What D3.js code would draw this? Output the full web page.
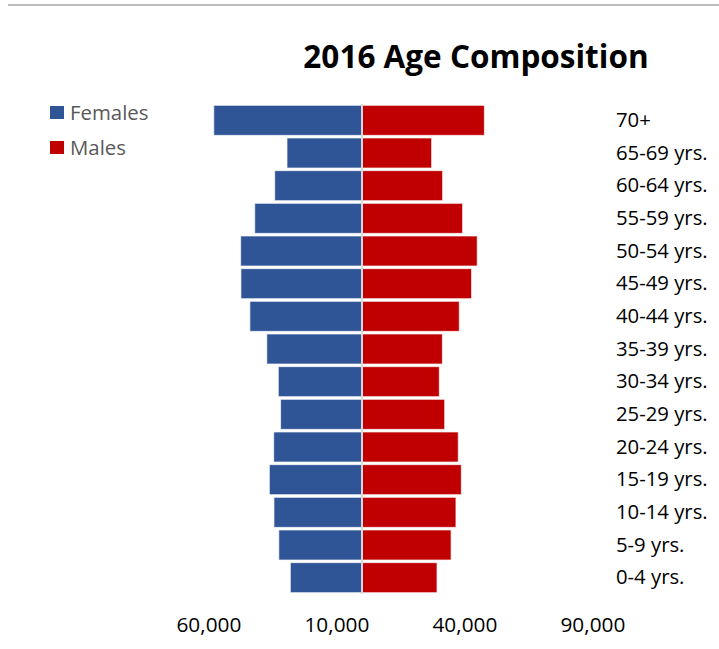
<!DOCTYPE html>
<html>
<head>
<meta charset="utf-8">
<script src="https://cdn.jsdelivr.net/npm/d3@7"></script>
<style>
  html, body { margin: 0; padding: 0; background: #fff; }
  svg { display: block; }
  text { font-family: "Open Sans", "Noto Sans", sans-serif; }
</style>
</head>
<body>
<svg id="chart" width="719" height="649"></svg>
<script>
// Age groups, listed from the top row of the pyramid down
const ageGroups = ["70+", "65-69 yrs.", "60-64 yrs.", "55-59 yrs.", "50-54 yrs.", "45-49 yrs.",
  "40-44 yrs.", "35-39 yrs.", "30-34 yrs.", "25-29 yrs.", "20-24 yrs.", "15-19 yrs.",
  "10-14 yrs.", "5-9 yrs.", "0-4 yrs."];
const females = [57900, 29300, 34100, 41900, 47400, 47300, 43800, 37200, 32700, 31800, 34500, 36200, 34400, 32500, 28000];
const males   = [47800, 27200, 31500, 39300, 45000, 42800, 38000, 31400, 30200, 32300, 37600, 38800, 36700, 34800, 29300];
const tickValues = [-60000, -10000, 40000, 90000];
const seriesNames = ["Females", "Males"];
const seriesColors = ["#2f5597", "#c00000"];
const chartTitle = "2016 Age Composition";

const svg = d3.select("#chart");

// thin rule across the top of the page
svg.append("line")
  .attr("x1", 8).attr("x2", 719).attr("y1", 5).attr("y2", 5)
  .attr("stroke", "#a6a6a6").attr("stroke-width", 1.5);

// Females are plotted to the left of zero, males to the right
const x = d3.scaleLinear().domain([-60000, 90000]).range([208.4, 592.4]);
const y = d3.scaleBand().domain(ageGroups).range([104, 594]).paddingInner(0.08).paddingOuter(0.04);

const rows = ageGroups.map((g, i) => ({ group: g, female: females[i], male: males[i] }));

svg.append("g").selectAll("rect")
  .data(rows).join("rect")
  .attr("x", d => x(-d.female))
  .attr("y", d => y(d.group))
  .attr("width", d => x(0) - x(-d.female))
  .attr("height", y.bandwidth())
  .attr("fill", seriesColors[0])
  .attr("stroke", "#ffffff").attr("stroke-opacity", 0.7).attr("stroke-width", 1);

svg.append("g").selectAll("rect")
  .data(rows).join("rect")
  .attr("x", x(0))
  .attr("y", d => y(d.group))
  .attr("width", d => x(d.male) - x(0))
  .attr("height", y.bandwidth())
  .attr("fill", seriesColors[1])
  .attr("stroke", "#ffffff").attr("stroke-opacity", 0.7).attr("stroke-width", 1);

// zero line between the two halves
svg.append("line")
  .attr("x1", x(0)).attr("x2", x(0))
  .attr("y1", 104).attr("y2", 594)
  .attr("stroke", "#d9d9d9").attr("stroke-width", 2);

// value axis along the bottom, shown as absolute counts
const xAxis = svg.append("g")
  .attr("transform", "translate(0,610)")
  .call(d3.axisBottom(x).tickValues(tickValues).tickSize(0).tickPadding(0)
    .tickFormat(d => d3.format(",")(Math.abs(d))));
xAxis.select(".domain").remove();
xAxis.selectAll("text")
  .attr("dy", null).attr("y", 22)
  .attr("font-family", "Open Sans, sans-serif")
  .attr("font-size", 20.8).attr("fill", "#000");

// age group labels on the right
const yAxis = svg.append("g")
  .attr("transform", "translate(616,0)")
  .call(d3.axisRight(y).tickSize(0).tickPadding(0));
yAxis.select(".domain").remove();
yAxis.selectAll("text")
  .attr("font-family", "Open Sans, sans-serif")
  .attr("font-size", 20.3).attr("fill", "#000");

// title
svg.append("text")
  .attr("x", 476).attr("y", 68)
  .attr("text-anchor", "middle")
  .attr("font-size", 31.5).attr("font-weight", "bold").attr("fill", "#000")
  .text(chartTitle);

// legend
const legend = svg.append("g").selectAll("g")
  .data(seriesNames).join("g")
  .attr("transform", (d, i) => `translate(50,${106 + i * 35})`);
legend.append("rect")
  .attr("width", 14).attr("height", 13)
  .attr("fill", (d, i) => seriesColors[i]);
legend.append("text")
  .attr("x", 20).attr("y", 6.5).attr("dy", "0.35em")
  .attr("font-size", 20.4).attr("fill", "#595959")
  .text(d => d);
</script>
</body>
</html>
